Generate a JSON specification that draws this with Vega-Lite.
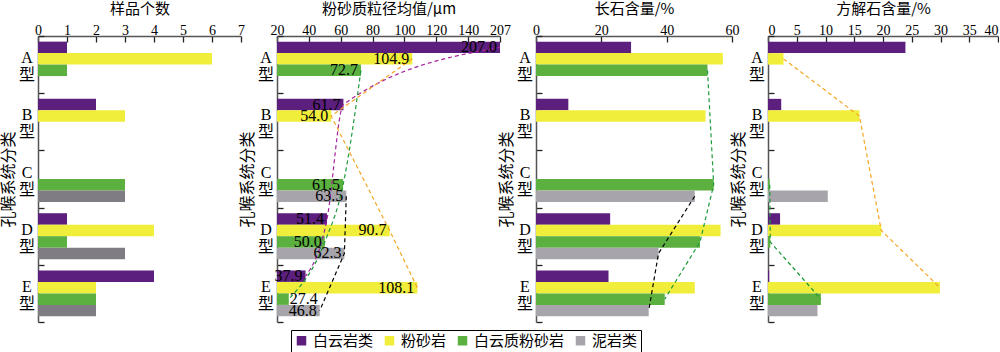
{
  "$schema": "https://vega.github.io/schema/vega-lite/v6.json",
  "padding": {"left": 0, "top": 1, "right": 0, "bottom": 0},
  "bounds": "flush",
  "spacing": 36,
  "datasets": {
    "count": [
      {"group": "A型", "type": "白云岩类", "value": 1},
      {"group": "A型", "type": "粉砂岩", "value": 6},
      {"group": "A型", "type": "白云质粉砂岩", "value": 1},
      {"group": "B型", "type": "白云岩类", "value": 2},
      {"group": "B型", "type": "粉砂岩", "value": 3},
      {"group": "C型", "type": "白云质粉砂岩", "value": 3},
      {"group": "C型", "type": "泥岩类", "value": 3},
      {"group": "D型", "type": "白云岩类", "value": 1},
      {"group": "D型", "type": "粉砂岩", "value": 4},
      {"group": "D型", "type": "白云质粉砂岩", "value": 1},
      {"group": "D型", "type": "泥岩类", "value": 3},
      {"group": "E型", "type": "白云岩类", "value": 4},
      {"group": "E型", "type": "粉砂岩", "value": 2},
      {"group": "E型", "type": "白云质粉砂岩", "value": 2},
      {"group": "E型", "type": "泥岩类", "value": 2}
    ],
    "grain": [
      {"group": "A型", "type": "白云岩类", "value": 207.0},
      {"group": "A型", "type": "粉砂岩", "value": 104.9},
      {"group": "A型", "type": "白云质粉砂岩", "value": 72.7},
      {"group": "B型", "type": "白云岩类", "value": 61.7},
      {"group": "B型", "type": "粉砂岩", "value": 54.0},
      {"group": "C型", "type": "白云质粉砂岩", "value": 61.5},
      {"group": "C型", "type": "泥岩类", "value": 63.5},
      {"group": "D型", "type": "白云岩类", "value": 51.4},
      {"group": "D型", "type": "粉砂岩", "value": 90.7},
      {"group": "D型", "type": "白云质粉砂岩", "value": 50.0},
      {"group": "D型", "type": "泥岩类", "value": 62.3},
      {"group": "E型", "type": "白云岩类", "value": 37.9},
      {"group": "E型", "type": "粉砂岩", "value": 108.1},
      {"group": "E型", "type": "白云质粉砂岩", "value": 27.4},
      {"group": "E型", "type": "泥岩类", "value": 46.8}
    ],
    "feldspar": [
      {"group": "A型", "type": "白云岩类", "value": 29.1},
      {"group": "A型", "type": "粉砂岩", "value": 57.2},
      {"group": "A型", "type": "白云质粉砂岩", "value": 52.5},
      {"group": "B型", "type": "白云岩类", "value": 9.9},
      {"group": "B型", "type": "粉砂岩", "value": 51.9},
      {"group": "C型", "type": "白云质粉砂岩", "value": 54.4},
      {"group": "C型", "type": "泥岩类", "value": 48.6},
      {"group": "D型", "type": "白云岩类", "value": 22.7},
      {"group": "D型", "type": "粉砂岩", "value": 56.5},
      {"group": "D型", "type": "白云质粉砂岩", "value": 50.2},
      {"group": "D型", "type": "泥岩类", "value": 37.5},
      {"group": "E型", "type": "白云岩类", "value": 22.2},
      {"group": "E型", "type": "粉砂岩", "value": 48.6},
      {"group": "E型", "type": "白云质粉砂岩", "value": 39.4},
      {"group": "E型", "type": "泥岩类", "value": 34.5}
    ],
    "calcite": [
      {"group": "A型", "type": "白云岩类", "value": 23.9},
      {"group": "A型", "type": "粉砂岩", "value": 2.7},
      {"group": "B型", "type": "白云岩类", "value": 2.3},
      {"group": "B型", "type": "粉砂岩", "value": 15.9},
      {"group": "C型", "type": "白云质粉砂岩", "value": 0.3},
      {"group": "C型", "type": "泥岩类", "value": 10.4},
      {"group": "D型", "type": "白云岩类", "value": 2.1},
      {"group": "D型", "type": "粉砂岩", "value": 19.7},
      {"group": "D型", "type": "白云质粉砂岩", "value": 0.4},
      {"group": "E型", "type": "白云岩类", "value": 0.2},
      {"group": "E型", "type": "粉砂岩", "value": 29.9},
      {"group": "E型", "type": "白云质粉砂岩", "value": 9.2},
      {"group": "E型", "type": "泥岩类", "value": 8.6}
    ]
  },
  "resolve": {"scale": {"color": "independent", "stroke": "independent"}, "legend": {"color": "independent", "stroke": "independent"}},
  "hconcat": [
    {
      "width": 203, "height": 286,
      "data": {"name": "count"},
      "mark": {"type": "bar"},
      "encoding": {
        "y": {"field": "group", "type": "nominal", "scale": {"domain": ["A型", "B型", "C型", "D型", "E型"], "paddingInner": 0, "paddingOuter": 0}, "axis": {"title": "孔喉系统分类"}},
        "yOffset": {"field": "type", "type": "nominal", "scale": {"domain": ["白云岩类", "粉砂岩", "白云质粉砂岩", "泥岩类"], "paddingInner": 0, "paddingOuter": 0.49}},
        "x": {"field": "value", "type": "quantitative", "scale": {"domain": [0, 7], "nice": false}, "axis": {"orient": "top", "title": "样品个数", "values": [0, 1, 2, 3, 4, 5, 6, 7]}},
        "color": {"field": "type", "type": "nominal", "scale": {"domain": ["白云岩类", "粉砂岩", "白云质粉砂岩", "泥岩类"], "range": ["#5c1f7d", "#f1ee3b", "#5cb040", "#7f7d83"]}, "legend": null}
      }
    },
    {
      "width": 223, "height": 286,
      "data": {"name": "grain"},
      "encoding": {
        "y": {"field": "group", "type": "nominal", "scale": {"domain": ["A型", "B型", "C型", "D型", "E型"], "paddingInner": 0, "paddingOuter": 0}, "axis": {"title": "孔喉系统分类"}},
        "yOffset": {"field": "type", "type": "nominal", "scale": {"domain": ["白云岩类", "粉砂岩", "白云质粉砂岩", "泥岩类"], "paddingInner": 0, "paddingOuter": 0.49}},
        "x": {"field": "value", "type": "quantitative", "scale": {"domain": [20, 160], "nice": false, "zero": false, "clamp": true}, "axis": {"orient": "top", "title": "粉砂质粒径均值/μm", "values": [20, 40, 60, 80, 100, 120, 140, 160], "labelExpr": "datum.value == 160 ? '207' : datum.label"}}
      },
      "layer": [
        {
          "mark": {"type": "bar"},
          "encoding": {
            "x2": {"datum": 20},
            "color": {"field": "type", "type": "nominal", "scale": {"domain": ["白云岩类", "粉砂岩", "白云质粉砂岩", "泥岩类"], "range": ["#5c1f7d", "#f1ee3b", "#5cb040", "#a7a5ab"]},
              "legend": {"orient": "none", "legendX": 14, "legendY": 294, "direction": "horizontal", "columns": 4, "title": null, "symbolType": "square", "symbolSize": 90, "symbolStrokeWidth": 0, "labelFont": "Noto Sans CJK SC", "labelFontSize": 15, "labelColor": "black", "labelOffset": 4, "columnPadding": 8, "padding": 3, "strokeColor": "black"}}
          }
        },
        {
          "transform": [{"filter": "datum.type == '白云岩类' || datum.type == '白云质粉砂岩'"}],
          "mark": {"type": "line", "strokeDash": [4, 3], "strokeWidth": 1.2, "interpolate": "monotone"},
          "encoding": {
            "order": {"field": "group", "type": "ordinal"},
            "stroke": {"field": "type", "type": "nominal", "scale": {"domain": ["白云岩类", "粉砂岩", "白云质粉砂岩", "泥岩类"], "range": ["#a3239b", "#f5a623", "#1f9a3c", "#000000"]}, "legend": null}
          }
        },
        {
          "transform": [{"filter": "datum.type == '粉砂岩' || datum.type == '泥岩类'"}],
          "mark": {"type": "line", "strokeDash": [4, 3], "strokeWidth": 1.2},
          "encoding": {
            "order": {"field": "group", "type": "ordinal"},
            "stroke": {"field": "type", "type": "nominal", "scale": {"domain": ["白云岩类", "粉砂岩", "白云质粉砂岩", "泥岩类"], "range": ["#a3239b", "#f5a623", "#1f9a3c", "#000000"]}, "legend": null}
          }
        },
        {
          "transform": [{"filter": "datum.value >= 30"}],
          "mark": {"type": "text", "align": "right", "baseline": "middle", "dx": -3, "fontSize": 16, "font": "Liberation Serif", "color": "black"},
          "encoding": {"text": {"field": "value", "type": "quantitative", "format": ".1f"}}
        },
        {
          "transform": [{"filter": "datum.value < 30"}],
          "mark": {"type": "text", "align": "left", "baseline": "middle", "dx": 1, "fontSize": 16, "font": "Liberation Serif", "color": "black"},
          "encoding": {"text": {"field": "value", "type": "quantitative", "format": ".1f"}}
        },
        {
          "data": {"values": [{"mark": "//"}]},
          "mark": {"type": "text", "baseline": "middle", "align": "center", "fontSize": 15, "font": "Liberation Serif", "color": "black"},
          "encoding": {
            "x": {"datum": 149},
            "y": {"datum": "A型", "bandPosition": 0},
            "yOffset": null,
            "text": {"field": "mark", "type": "nominal"}
          }
        }
      ]
    },
    {
      "width": 196, "height": 286,
      "data": {"name": "feldspar"},
      "encoding": {
        "y": {"field": "group", "type": "nominal", "scale": {"domain": ["A型", "B型", "C型", "D型", "E型"], "paddingInner": 0, "paddingOuter": 0}, "axis": {"title": "孔喉系统分类"}},
        "yOffset": {"field": "type", "type": "nominal", "scale": {"domain": ["白云岩类", "粉砂岩", "白云质粉砂岩", "泥岩类"], "paddingInner": 0, "paddingOuter": 0.49}},
        "x": {"field": "value", "type": "quantitative", "scale": {"domain": [0, 60], "nice": false}, "axis": {"orient": "top", "title": "长石含量/%", "values": [0, 20, 40, 60]}}
      },
      "layer": [
        {
          "mark": {"type": "bar"},
          "encoding": {
            "color": {"field": "type", "type": "nominal", "scale": {"domain": ["白云岩类", "粉砂岩", "白云质粉砂岩", "泥岩类"], "range": ["#5c1f7d", "#f1ee3b", "#5cb040", "#a7a5ab"]}, "legend": null}
          }
        },
        {
          "transform": [{"filter": "datum.type == '白云质粉砂岩' || datum.type == '泥岩类'"}],
          "mark": {"type": "line", "strokeDash": [4, 3], "strokeWidth": 1.2},
          "encoding": {
            "order": {"field": "group", "type": "ordinal"},
            "stroke": {"field": "type", "type": "nominal", "scale": {"domain": ["白云质粉砂岩", "泥岩类"], "range": ["#1f9a3c", "#000000"]}, "legend": null}
          }
        }
      ]
    },
    {
      "width": 230, "height": 286,
      "data": {"name": "calcite"},
      "encoding": {
        "y": {"field": "group", "type": "nominal", "scale": {"domain": ["A型", "B型", "C型", "D型", "E型"], "paddingInner": 0, "paddingOuter": 0}, "axis": {"title": "孔喉系统分类"}},
        "yOffset": {"field": "type", "type": "nominal", "scale": {"domain": ["白云岩类", "粉砂岩", "白云质粉砂岩", "泥岩类"], "paddingInner": 0, "paddingOuter": 0.49}},
        "x": {"field": "value", "type": "quantitative", "scale": {"domain": [0, 40], "nice": false}, "axis": {"orient": "top", "title": "方解石含量/%", "values": [0, 5, 10, 15, 20, 25, 30, 35, 40], "labelFlush": true}}
      },
      "layer": [
        {
          "mark": {"type": "bar"},
          "encoding": {
            "color": {"field": "type", "type": "nominal", "scale": {"domain": ["白云岩类", "粉砂岩", "白云质粉砂岩", "泥岩类"], "range": ["#5c1f7d", "#f1ee3b", "#5cb040", "#a7a5ab"]}, "legend": null}
          }
        },
        {
          "transform": [{"filter": "datum.type == '粉砂岩' || datum.type == '白云质粉砂岩'"}],
          "mark": {"type": "line", "strokeDash": [4, 3], "strokeWidth": 1.2},
          "encoding": {
            "order": {"field": "group", "type": "ordinal"},
            "stroke": {"field": "type", "type": "nominal", "scale": {"domain": ["粉砂岩", "白云质粉砂岩"], "range": ["#f5a623", "#1f9a3c"]}, "legend": null}
          }
        }
      ]
    }
  ],
  "config": {
    "view": {"stroke": null},
    "axis": {
      "grid": false,
      "domainColor": "#555555", "domainWidth": 1.5,
      "tickColor": "#222222", "tickWidth": 1.3, "tickSize": -6,
      "labelFont": "Liberation Serif", "labelFontSize": 14, "labelColor": "black",
      "titleFont": "Noto Sans CJK SC", "titleFontSize": 15, "titleFontWeight": "normal", "titleColor": "black"
    },
    "axisX": {"labelFlush": false, "labelPadding": 5, "titlePadding": 7, "labelOverlap": false},
    "axisY": {"tickBand": "extent", "labelFont": "Liberation Serif, Noto Sans CJK SC", "labelFontSize": 16, "labelAlign": "center", "labelBaseline": "middle", "labelPadding": 17.5, "labelOffset": -7, "labelLineHeight": 17, "titlePadding": 2, "titleFontSize": 16, "labelExpr": "[substring(datum.label, 0, 1), substring(datum.label, 1)]"}
  }
}
